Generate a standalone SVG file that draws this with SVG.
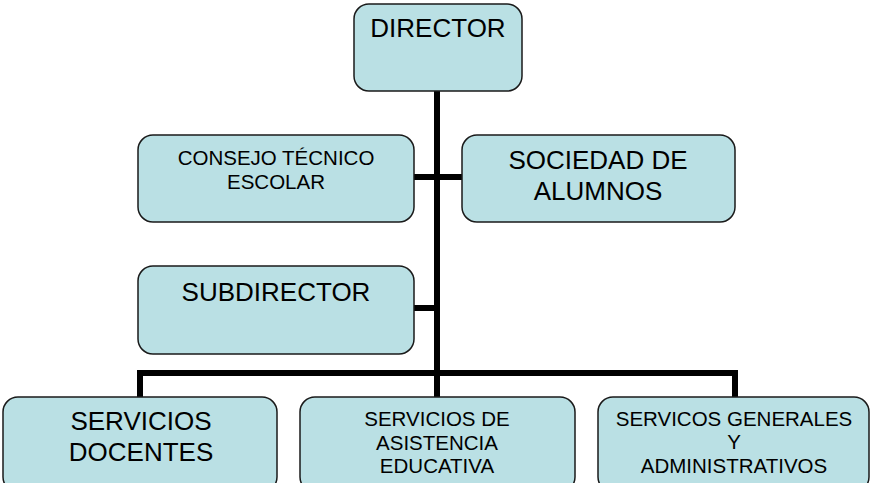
<svg xmlns="http://www.w3.org/2000/svg" width="871" height="483" viewBox="0 0 871 483">
<style>
.box{fill:#BAE0E4;stroke:#1a1a1a;stroke-width:1.5}
.t{font-family:"Liberation Sans",Arial,sans-serif;fill:#000;text-anchor:middle}
.c{stroke:#000;stroke-width:6;fill:none;stroke-linecap:butt;stroke-linejoin:miter}
</style>
<rect width="871" height="483" fill="#fff"/>
<g id="connectors">
<path class="c" d="M437 91 V376"/>
<path class="c" d="M414 177 H462"/>
<path class="c" d="M414 308 H437"/>
<path class="c" d="M140 397 V373 H735 V397"/>
<path class="c" d="M437 373 V397"/>
</g>
<g id="director">
<rect class="box" x="354" y="4" width="168" height="87" rx="15"/>
<text class="t" x="438" y="37" font-size="26">DIRECTOR</text>
</g>
<g id="consejo">
<rect class="box" x="138" y="135" width="276" height="87" rx="15"/>
<text class="t" x="276" y="165" font-size="20.5">CONSEJO TÉCNICO</text>
<text class="t" x="276" y="189" font-size="20.5">ESCOLAR</text>
</g>
<g id="sociedad">
<rect class="box" x="462" y="135" width="273" height="87" rx="15"/>
<text class="t" x="598" y="169" font-size="26">SOCIEDAD DE</text>
<text class="t" x="598" y="200" font-size="26">ALUMNOS</text>
</g>
<g id="subdirector">
<rect class="box" x="138" y="266" width="276" height="88" rx="15"/>
<text class="t" x="276" y="301" font-size="26">SUBDIRECTOR</text>
</g>
<g id="docentes">
<rect class="box" x="3" y="397" width="274" height="95" rx="15"/>
<text class="t" x="141" y="430" font-size="26">SERVICIOS</text>
<text class="t" x="141" y="461" font-size="26">DOCENTES</text>
</g>
<g id="asistencia">
<rect class="box" x="300" y="397" width="275" height="95" rx="15"/>
<text class="t" x="437" y="426" font-size="20.5">SERVICIOS DE</text>
<text class="t" x="437" y="450" font-size="20.5">ASISTENCIA</text>
<text class="t" x="437" y="473" font-size="20.5">EDUCATIVA</text>
</g>
<g id="generales">
<rect class="box" x="598" y="397" width="271" height="95" rx="15"/>
<text class="t" x="734" y="426" font-size="20.5">SERVICOS GENERALES</text>
<text class="t" x="734" y="449" font-size="20.5">Y</text>
<text class="t" x="734" y="473" font-size="20.5">ADMINISTRATIVOS</text>
</g>
</svg>
